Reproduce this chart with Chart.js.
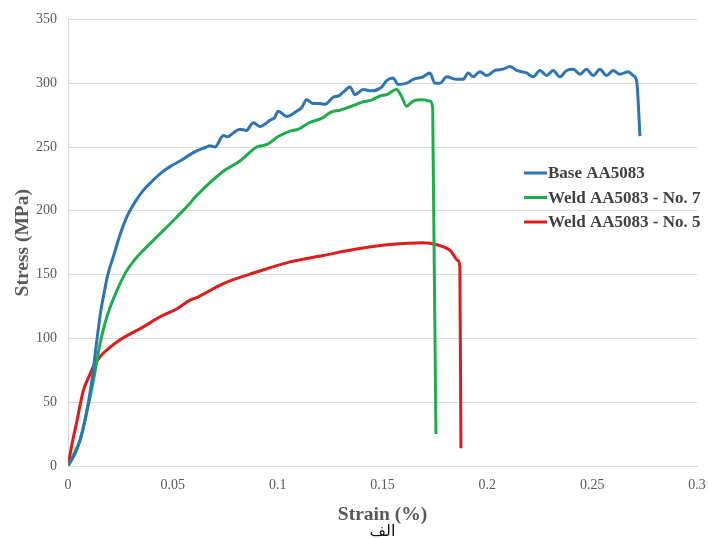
<!DOCTYPE html>
<html lang="en">
<head>
  <meta charset="UTF-8">
  <title>Stress - Strain</title>
  <script src="https://cdn.jsdelivr.net/npm/chart.js"></script>
  <style>
    body { margin: 0; background: #fff; }
    .chart-box { width: 708px; height: 538px; }
  </style>
</head>
<body>
  <div class="chart-box">
    <canvas id="stressChart"></canvas>
  </div>

  <script>
    // values
    const xTicks = [0, 0.05, 0.1, 0.15, 0.2, 0.25, 0.3];
    const yTicks = [0, 50, 100, 150, 200, 250, 300, 350];

    const seriesNames = ['Base AA5083', 'Weld AA5083 - No. 7', 'Weld AA5083 - No. 5'];
    const seriesColors = ['#2e75b6', '#1fad4b', '#e01b1b'];

    const baseStrain = [
      0, 0.004, 0.007, 0.0095, 0.0115, 0.0135, 0.0155, 0.0168, 0.019, 0.0216,
      0.025, 0.028, 0.032, 0.0359, 0.04, 0.0439, 0.049, 0.0534, 0.0582, 0.0614,
      0.0629, 0.066, 0.0677, 0.0701, 0.0741, 0.076, 0.0788, 0.082, 0.085, 0.0884,
      0.0916, 0.094, 0.0963, 0.0985, 0.1003, 0.1043, 0.109, 0.1115, 0.1138, 0.1169,
      0.1202, 0.1226, 0.1265, 0.129, 0.1313, 0.1345, 0.1369, 0.1408, 0.1448, 0.1496,
      0.152, 0.155, 0.1575, 0.1615, 0.1647, 0.1694, 0.1726, 0.175, 0.1774, 0.1806,
      0.1853, 0.1884, 0.1909, 0.1932, 0.1965, 0.1997, 0.2036, 0.2075, 0.2108, 0.214,
      0.2187, 0.2218, 0.2251, 0.2283, 0.2314, 0.2346, 0.2378, 0.241, 0.2442, 0.2473,
      0.2505, 0.2537, 0.2569, 0.26, 0.2632, 0.2672, 0.2696, 0.2712, 0.2728
    ];
    const baseStress = [
      0, 12, 28, 48, 68, 95, 120, 132, 150, 164,
      182, 195, 207, 216, 223, 229, 235, 239, 244, 247,
      248, 250, 251, 250, 259, 258, 261, 264, 263, 269,
      266, 268, 271, 273, 278, 274, 278, 281, 287, 284,
      284, 283.5, 289, 290, 293, 297, 291, 295, 294, 297,
      302, 304, 299, 300, 303, 305, 308, 300, 300, 305,
      303, 303, 308, 305, 309, 306, 310, 311, 313, 310,
      308, 305, 310, 306, 310, 305, 310, 311, 307, 311,
      306, 311, 306, 310, 307, 309, 306, 302, 258.5
    ];

    const weld7Strain = [
      0, 0.003, 0.0057, 0.008, 0.01, 0.0121, 0.0153, 0.0175, 0.02, 0.024,
      0.028, 0.032, 0.0359, 0.0439, 0.0518, 0.0582, 0.0614, 0.0741, 0.082, 0.09,
      0.095, 0.1, 0.1059, 0.11, 0.115, 0.1217, 0.125, 0.13, 0.1377, 0.14,
      0.145, 0.1488, 0.152, 0.1567, 0.159, 0.1615, 0.1646, 0.1694, 0.1726, 0.1739,
      0.1742, 0.1755
    ];
    const weld7Stress = [
      0, 10, 20, 35, 50, 67, 96, 111, 124, 140,
      153, 162, 169, 182, 195, 206, 212, 231, 239, 250,
      252, 258, 262.5, 264, 269, 273, 277, 279, 283.5, 285,
      287, 290, 291, 295, 290, 282, 286, 287, 286, 281,
      236, 25
    ];

    const weld5Strain = [
      0, 0.002, 0.0041, 0.0073, 0.01, 0.0121, 0.016, 0.02, 0.024, 0.028,
      0.0359, 0.0439, 0.0518, 0.0582, 0.0614, 0.0741, 0.09, 0.1059, 0.1217, 0.1377,
      0.1536, 0.1694, 0.1758, 0.1822, 0.1861, 0.1869, 0.1874
    ];
    const weld5Stress = [
      0, 18, 34, 59, 70, 78, 87, 93, 98, 102,
      109, 117, 123, 130, 132, 143, 152, 160, 165, 170,
      173.5, 175, 173.5, 169, 161, 156, 14
    ];

    const serif = "'Liberation Serif', 'Times New Roman', serif";
    const grey = '#595959';

    function toPoints(xs, ys) {
      return xs.map((x, i) => ({ x: x, y: ys[i] }));
    }

    // legend drawn inside the plot, right side
    const innerLegend = {
      id: 'innerLegend',
      afterDraw(chart) {
        const ctx = chart.ctx;
        ctx.save();
        ctx.font = 'bold 17px ' + serif;
        ctx.textBaseline = 'middle';
        chart.data.datasets.forEach((ds, i) => {
          const y = 173 + i * 24.5;
          ctx.strokeStyle = ds.borderColor;
          ctx.lineWidth = 3;
          ctx.beginPath();
          ctx.moveTo(524, y);
          ctx.lineTo(547, y);
          ctx.stroke();
          ctx.fillStyle = '#404040';
          ctx.fillText(ds.label, 548, y + 1);
        });
        ctx.restore();
      }
    };

    const series = [
      toPoints(baseStrain, baseStress),
      toPoints(weld7Strain, weld7Stress),
      toPoints(weld5Strain, weld5Stress)
    ];

    new Chart(document.getElementById('stressChart'), {
      type: 'line',
      data: {
        datasets: series.map((pts, i) => ({
          label: seriesNames[i],
          data: pts,
          borderColor: seriesColors[i],
          borderWidth: 3,
          pointRadius: 0,
          fill: false,
          cubicInterpolationMode: 'monotone'
        }))
      },
      options: {
        responsive: true,
        maintainAspectRatio: false,
        animation: false,
        layout: { padding: { top: 18, right: 11, bottom: 0, left: 0 } },
        plugins: {
          legend: { display: false },
          tooltip: { enabled: false },
          subtitle: {
            display: true,
            position: 'bottom',
            fullSize: false,
            text: 'الف',
            color: '#111',
            font: { family: "'Liberation Serif', 'DejaVu Sans', serif", size: 16, weight: 'normal', lineHeight: 1 },
            padding: { top: 0, bottom: -2 }
          }
        },
        scales: {
          x: {
            type: 'linear',
            min: 0,
            max: 0.3,
            afterBuildTicks: s => { s.ticks = xTicks.map(v => ({ value: v })); },
            afterFit: s => { s.height = 58; s.paddingLeft = 0; s.paddingRight = 0; },
            grid: { display: false, drawTicks: false },
            border: { display: true, color: '#d9d9d9' },
            ticks: {
              padding: 11,
              color: grey,
              font: { family: serif, size: 14 },
              maxRotation: 0,
              callback: v => String(Number(v.toFixed(2)))
            },
            title: {
              display: true,
              text: 'Strain (%)',
              color: grey,
              font: { family: serif, size: 19.5, weight: 'bold' },
              padding: { top: 0, bottom: -3 }
            }
          },
          y: {
            min: 0,
            max: 350,
            afterBuildTicks: s => { s.ticks = yTicks.map(v => ({ value: v })); },
            afterFit: s => { s.width = 68; },
            grid: { color: '#d9d9d9', drawTicks: false },
            border: { display: true, color: '#d9d9d9' },
            ticks: {
              padding: 11,
              color: grey,
              font: { family: serif, size: 14 }
            },
            title: {
              display: true,
              text: 'Stress (MPa)',
              color: grey,
              font: { family: serif, size: 19.5, weight: 'bold' },
              padding: { top: 11, bottom: 11 }
            }
          }
        }
      },
      plugins: [innerLegend]
    });
  </script>
</body>
</html>
